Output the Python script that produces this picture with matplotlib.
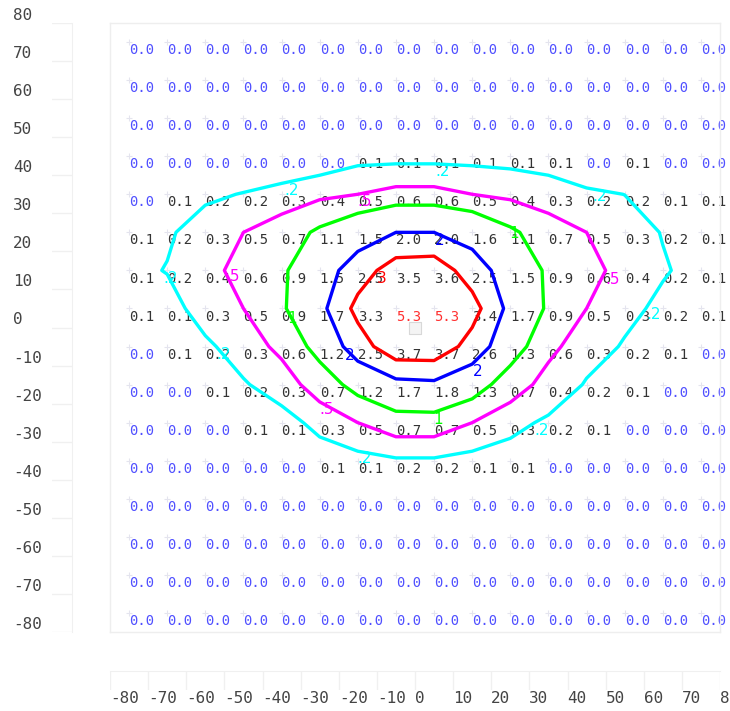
import matplotlib
matplotlib.use("Agg")
import matplotlib.pyplot as plt
import matplotlib.transforms as mtrans
import numpy as np

############
# DATA
############

xs = [-75, -65, -55, -45, -35, -25, -15, -5, 5, 15, 25, 35, 45, 55, 65, 75]
ys = [75, 65, 55, 45, 35, 25, 15, 5, -5, -15, -25, -35, -45, -55, -65, -75]

# rows from top (y=75) to bottom (y=-75); shown rounded to 1 decimal,
# a few cells near 0.2 carry an extra digit read off the contour positions
values = [
    [0.0] * 16,
    [0.0] * 16,
    [0.0] * 16,
    [0.0, 0.0, 0.0, 0.0, 0.0, 0.0, 0.1, 0.1, 0.1, 0.1, 0.1, 0.1, 0.0, 0.1, 0.0, 0.0],
    [0.0, 0.1, 0.16, 0.21, 0.28, 0.4, 0.5, 0.6, 0.6, 0.5, 0.4, 0.3, 0.24, 0.198, 0.1, 0.1],
    [0.1, 0.17, 0.3, 0.5, 0.7, 1.1, 1.5, 2.0, 2.0, 1.6, 1.1, 0.7, 0.5, 0.3, 0.19, 0.1],
    [0.14, 0.21, 0.4, 0.6, 0.9, 1.5, 2.5, 3.5, 3.6, 2.5, 1.5, 0.9, 0.6, 0.4, 0.22, 0.13],
    [0.1, 0.11, 0.3, 0.5, 0.9, 1.7, 3.3, 5.3, 5.3, 3.4, 1.7, 0.9, 0.5, 0.26, 0.152, 0.1],
    [0.0, 0.1, 0.16, 0.3, 0.6, 1.2, 2.5, 3.7, 3.7, 2.6, 1.3, 0.6, 0.3, 0.18, 0.1, 0.0],
    [0.0, 0.0, 0.1, 0.18, 0.3, 0.7, 1.2, 1.7, 1.8, 1.3, 0.7, 0.36, 0.18, 0.1, 0.0, 0.0],
    [0.0, 0.0, 0.0, 0.1, 0.12, 0.26, 0.5, 0.7, 0.7, 0.5, 0.27, 0.16, 0.1, 0.0, 0.0, 0.0],
    [0.0, 0.0, 0.0, 0.0, 0.0, 0.1, 0.1, 0.16, 0.16, 0.1, 0.1, 0.0, 0.0, 0.0, 0.0, 0.0],
    [0.0] * 16,
    [0.0] * 16,
    [0.0] * 16,
    [0.0] * 16,
]

levels = [0.2, 0.5, 1, 2, 3]
level_colors = ["#00ffff", "#ff00ff", "#00ff00", "#0000ff", "#ff0000"]
level_labels = {0.2: ".2", 0.5: ".5", 1: "1", 2: "2", 3: "3"}

ticks = list(range(-80, 81, 10))

# contour label anchors (top-left corner of each label)
label_spots = [
    (5.25, 42.0), (-34.1, 37.8), (46.7, 36.7), (-66.4, 14.2), (61.9, 4.7),
    (31.5, -25.2), (-15.2, -32.5), (-51.9, -5.0),
    (-15.0, 34.4), (-49.3, 15.2), (49.8, 14.7), (-24.9, -19.4),
    (24.7, 26.5), (4.7, -22.0), (-33.6, 4.2),
    (5.0, 24.7), (15.0, -9.4), (-18.6, -5.5),
    (-10.0, 14.7),
]

############
# FIGURE
############

W, H = 730, 711
fig = plt.figure(figsize=(W / 100, H / 100), dpi=100)


def box(x0, y0, x1, y1):
    # pixel box (top-left origin) -> figure fractions
    return [x0 / W, 1 - y1 / H, (x1 - x0) / W, (y1 - y0) / H]


ax = fig.add_axes(box(110, 23, 720, 632))
ax.set_xlim(-80, 80)
ax.set_ylim(-80, 80)
ax.set_xticks([])
ax.set_yticks([])
for s in ax.spines.values():
    s.set_color("#eeeeee")
    s.set_linewidth(1)

Z = np.array(values)
shown = [["%.1f" % v for v in row] for row in values]
top = max(float(s) for row in shown for s in row)

# grid markers
gx, gy = np.meshgrid(xs, ys)
ax.scatter(gx.ravel(), gy.ravel(), marker="+", s=18, color="#e4e4ee", linewidths=0.8, zorder=1)

for i, y in enumerate(ys):
    for j, x in enumerate(xs):
        s = shown[i][j]
        if float(s) == 0:
            c = "#5050ff"
        elif float(s) == top:
            c = "#ff3030"
        else:
            c = "#333333"
        ax.text(x, y - 0.3, s, ha="left", va="top", color=c,
                fontsize=10, family="DejaVu Sans Mono", zorder=2)

cs = ax.contour(xs, ys[::-1], Z[::-1], levels=levels, colors=level_colors,
                linewidths=2.4, zorder=3)
lbls = ax.clabel(cs, inline=False, fmt=level_labels, manual=label_spots, fontsize=11)
for t in lbls:
    t.set_rotation(0)
    t.set_ha("left")
    t.set_va("top")
    t.set_zorder(4)

# small marker at the origin
ax.scatter([0], [0], marker="s", s=70, facecolor="#f4f4f4", edgecolor="#d8d8d8",
           linewidths=0.8, zorder=2)

# left strip with y ticks
axl = fig.add_axes(box(52, 23, 72, 632))
axl.set_xlim(0, 1)
axl.set_ylim(-80, 80)
axl.set_xticks([])
axl.set_yticks([])
for k, s in axl.spines.items():
    s.set_visible(k == "right")
    s.set_color("#f0f0f0")
for t in ticks:
    axl.axhline(t, color="#f0f0f0", lw=1)
trl = mtrans.blended_transform_factory(fig.transFigure, axl.transData)
for t in ticks:
    axl.text(13 / W, t, str(t), transform=trl, ha="left", va="bottom",
             fontsize=11.5, color="#444444", family="DejaVu Sans Mono", clip_on=False)

# bottom strip with x ticks
axb = fig.add_axes(box(110, 671, 720, 690))
axb.set_xlim(-80, 80)
axb.set_ylim(0, 1)
axb.set_xticks([])
axb.set_yticks([])
for k, s in axb.spines.items():
    s.set_visible(k == "top")
    s.set_color("#f0f0f0")
for t in ticks:
    axb.axvline(t, color="#f0f0f0", lw=1)
trb = mtrans.blended_transform_factory(axb.transData, fig.transFigure)
for t in ticks:
    axb.text(t, 1 - 691 / H, str(t), transform=trb, ha="left", va="top",
             fontsize=11.5, color="#444444", family="DejaVu Sans Mono", clip_on=False)

fig.savefig("out.png", dpi=100, facecolor="white")
